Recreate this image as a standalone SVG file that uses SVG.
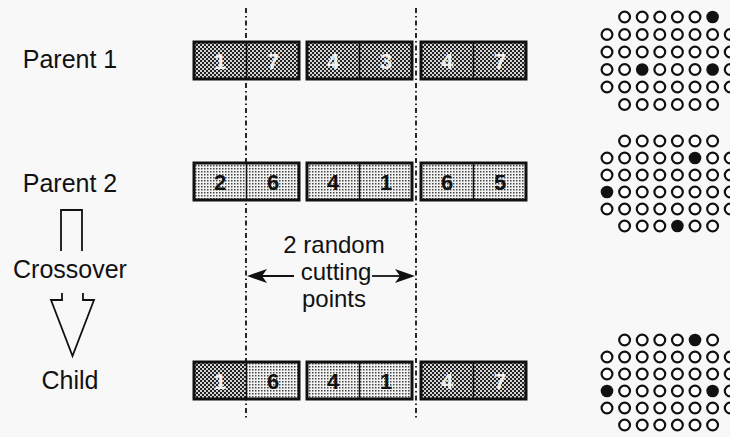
<svg xmlns="http://www.w3.org/2000/svg" width="730" height="437" viewBox="0 0 730 437">
<defs>
<pattern id="dk" width="4" height="4" patternUnits="userSpaceOnUse">
<rect width="4" height="4" fill="#d4d4d4"/>
<rect width="2" height="2" fill="#222"/>
<rect x="2" y="2" width="2" height="2" fill="#222"/>
</pattern>
<pattern id="lt" width="3" height="3" patternUnits="userSpaceOnUse">
<rect width="3" height="3" fill="#f2f2f2"/>
<rect width="1.5" height="1.5" fill="#444"/>
</pattern>
</defs>
<style>
.lbl{font-family:"Liberation Sans",Arial,sans-serif;font-size:25px;fill:#111;text-anchor:middle}
.note{font-family:"Liberation Sans",Arial,sans-serif;font-size:24px;fill:#111;text-anchor:middle}
.dg{font-family:"Liberation Sans",Arial,sans-serif;font-size:22px;font-weight:bold;text-anchor:middle}
.w{fill:#f0f0f0}
.b{fill:#111}
.d{fill:url(#dk)}
.l{fill:url(#lt)}
.box{fill:none;stroke:#111;stroke-width:3}
.div{stroke:#111;stroke-width:1.5}
.cut{stroke:#111;stroke-width:1.8;stroke-dasharray:5 3 1.5 3;fill:none}
.o{fill:#fff;stroke:#111;stroke-width:2.2}
.f{fill:#111}
.ln{stroke:#111;stroke-width:1.8;fill:none}
.hd{fill:#111}
</style>
<rect width="730" height="437" fill="#f8f8f8"/>

<g id="connectors">
<line class="cut" x1="246" y1="8" x2="246" y2="418"/>
<line class="cut" x1="416" y1="8" x2="416" y2="418"/>
<line class="ln" x1="294" y1="276" x2="258" y2="276"/>
<path class="hd" d="M247,276 L267,269 L262,276 L267,283 Z"/>
<line class="ln" x1="372" y1="276" x2="404" y2="276"/>
<path class="hd" d="M415,276 L395,269 L400,276 L395,283 Z"/>
<path class="ln" d="M61,251 V210 H82 V251"/>
<path class="ln" d="M62,293 V300 H51 L72.5,356 L94,300 H83 V293"/>
</g>

<g id="label-parent1"><text class="lbl" x="70" y="68">Parent 1</text></g>
<g id="label-parent2"><text class="lbl" x="70" y="192">Parent 2</text></g>
<g id="label-crossover"><text class="lbl" x="70" y="278">Crossover</text></g>
<g id="label-child"><text class="lbl" x="70" y="389">Child</text></g>
<g id="label-cuts">
<text class="note" x="334" y="253">2 random</text>
<text class="note" x="336" y="280">cutting</text>
<text class="note" x="334" y="307">points</text>
</g>

<g id="parent1">
<rect class="d" x="194" y="42" width="105" height="37"/>
<rect class="d" x="307" y="42" width="105" height="37"/>
<rect class="d" x="421" y="42" width="105" height="37"/>
<rect class="box" x="194" y="42" width="105" height="37"/>
<rect class="box" x="307" y="42" width="105" height="37"/>
<rect class="box" x="421" y="42" width="105" height="37"/>
<line class="div" x1="246.5" y1="42" x2="246.5" y2="79"/>
<line class="div" x1="359.5" y1="42" x2="359.5" y2="79"/>
<line class="div" x1="473.5" y1="42" x2="473.5" y2="79"/>
<text class="dg w" x="220" y="68.5">1</text>
<text class="dg w" x="273" y="68.5">7</text>
<text class="dg w" x="333" y="68.5">4</text>
<text class="dg w" x="386" y="68.5">3</text>
<text class="dg w" x="447" y="68.5">4</text>
<text class="dg w" x="500" y="68.5">7</text>
</g>

<g id="parent2">
<rect class="l" x="194" y="163" width="105" height="37"/>
<rect class="l" x="307" y="163" width="105" height="37"/>
<rect class="l" x="421" y="163" width="105" height="37"/>
<rect class="box" x="194" y="163" width="105" height="37"/>
<rect class="box" x="307" y="163" width="105" height="37"/>
<rect class="box" x="421" y="163" width="105" height="37"/>
<line class="div" x1="246.5" y1="163" x2="246.5" y2="200"/>
<line class="div" x1="359.5" y1="163" x2="359.5" y2="200"/>
<line class="div" x1="473.5" y1="163" x2="473.5" y2="200"/>
<text class="dg b" x="220" y="189.5">2</text>
<text class="dg b" x="273" y="189.5">6</text>
<text class="dg b" x="333" y="189.5">4</text>
<text class="dg b" x="386" y="189.5">1</text>
<text class="dg b" x="447" y="189.5">6</text>
<text class="dg b" x="500" y="189.5">5</text>
</g>

<g id="child">
<rect class="d" x="194" y="362" width="52.5" height="37"/>
<rect class="l" x="246.5" y="362" width="52.5" height="37"/>
<rect class="l" x="307" y="362" width="105" height="37"/>
<rect class="d" x="421" y="362" width="105" height="37"/>
<rect class="box" x="194" y="362" width="105" height="37"/>
<rect class="box" x="307" y="362" width="105" height="37"/>
<rect class="box" x="421" y="362" width="105" height="37"/>
<line class="div" x1="246.5" y1="362" x2="246.5" y2="399"/>
<line class="div" x1="359.5" y1="362" x2="359.5" y2="399"/>
<line class="div" x1="473.5" y1="362" x2="473.5" y2="399"/>
<text class="dg w" x="220" y="388.5">1</text>
<text class="dg b" x="273" y="388.5">6</text>
<text class="dg b" x="333" y="388.5">4</text>
<text class="dg b" x="386" y="388.5">1</text>
<text class="dg w" x="447" y="388.5">4</text>
<text class="dg w" x="500" y="388.5">7</text>
</g>

<g id="grid-parent1">
<circle class="o" cx="624.6" cy="17" r="5.4"/><circle class="o" cx="642.2" cy="17" r="5.4"/><circle class="o" cx="659.8" cy="17" r="5.4"/><circle class="o" cx="677.4" cy="17" r="5.4"/><circle class="o" cx="695" cy="17" r="5.4"/><circle class="f" cx="712.6" cy="17" r="6.3"/>
<circle class="o" cx="607" cy="34.5" r="5.4"/><circle class="o" cx="624.6" cy="34.5" r="5.4"/><circle class="o" cx="642.2" cy="34.5" r="5.4"/><circle class="o" cx="659.8" cy="34.5" r="5.4"/><circle class="o" cx="677.4" cy="34.5" r="5.4"/><circle class="o" cx="695" cy="34.5" r="5.4"/><circle class="o" cx="712.6" cy="34.5" r="5.4"/><circle class="o" cx="730.2" cy="34.5" r="5.4"/>
<circle class="o" cx="607" cy="52" r="5.4"/><circle class="o" cx="624.6" cy="52" r="5.4"/><circle class="o" cx="642.2" cy="52" r="5.4"/><circle class="o" cx="659.8" cy="52" r="5.4"/><circle class="o" cx="677.4" cy="52" r="5.4"/><circle class="o" cx="695" cy="52" r="5.4"/><circle class="o" cx="712.6" cy="52" r="5.4"/><circle class="o" cx="730.2" cy="52" r="5.4"/>
<circle class="o" cx="607" cy="69.5" r="5.4"/><circle class="o" cx="624.6" cy="69.5" r="5.4"/><circle class="f" cx="642.2" cy="69.5" r="6.3"/><circle class="o" cx="659.8" cy="69.5" r="5.4"/><circle class="o" cx="677.4" cy="69.5" r="5.4"/><circle class="o" cx="695" cy="69.5" r="5.4"/><circle class="f" cx="712.6" cy="69.5" r="6.3"/><circle class="o" cx="730.2" cy="69.5" r="5.4"/>
<circle class="o" cx="607" cy="87" r="5.4"/><circle class="o" cx="624.6" cy="87" r="5.4"/><circle class="o" cx="642.2" cy="87" r="5.4"/><circle class="o" cx="659.8" cy="87" r="5.4"/><circle class="o" cx="677.4" cy="87" r="5.4"/><circle class="o" cx="695" cy="87" r="5.4"/><circle class="o" cx="712.6" cy="87" r="5.4"/><circle class="o" cx="730.2" cy="87" r="5.4"/>
<circle class="o" cx="624.6" cy="104.5" r="5.4"/><circle class="o" cx="642.2" cy="104.5" r="5.4"/><circle class="o" cx="659.8" cy="104.5" r="5.4"/><circle class="o" cx="677.4" cy="104.5" r="5.4"/><circle class="o" cx="695" cy="104.5" r="5.4"/><circle class="o" cx="712.6" cy="104.5" r="5.4"/>
</g>

<g id="grid-parent2">
<circle class="o" cx="624.6" cy="141" r="5.4"/><circle class="o" cx="642.2" cy="141" r="5.4"/><circle class="o" cx="659.8" cy="141" r="5.4"/><circle class="o" cx="677.4" cy="141" r="5.4"/><circle class="o" cx="695" cy="141" r="5.4"/><circle class="o" cx="712.6" cy="141" r="5.4"/>
<circle class="o" cx="607" cy="158" r="5.4"/><circle class="o" cx="624.6" cy="158" r="5.4"/><circle class="o" cx="642.2" cy="158" r="5.4"/><circle class="o" cx="659.8" cy="158" r="5.4"/><circle class="o" cx="677.4" cy="158" r="5.4"/><circle class="f" cx="695" cy="158" r="6.3"/><circle class="o" cx="712.6" cy="158" r="5.4"/><circle class="o" cx="730.2" cy="158" r="5.4"/>
<circle class="o" cx="607" cy="175" r="5.4"/><circle class="o" cx="624.6" cy="175" r="5.4"/><circle class="o" cx="642.2" cy="175" r="5.4"/><circle class="o" cx="659.8" cy="175" r="5.4"/><circle class="o" cx="677.4" cy="175" r="5.4"/><circle class="o" cx="695" cy="175" r="5.4"/><circle class="o" cx="712.6" cy="175" r="5.4"/><circle class="o" cx="730.2" cy="175" r="5.4"/>
<circle class="f" cx="607" cy="192" r="6.3"/><circle class="o" cx="624.6" cy="192" r="5.4"/><circle class="o" cx="642.2" cy="192" r="5.4"/><circle class="o" cx="659.8" cy="192" r="5.4"/><circle class="o" cx="677.4" cy="192" r="5.4"/><circle class="o" cx="695" cy="192" r="5.4"/><circle class="o" cx="712.6" cy="192" r="5.4"/><circle class="o" cx="730.2" cy="192" r="5.4"/>
<circle class="o" cx="607" cy="209" r="5.4"/><circle class="o" cx="624.6" cy="209" r="5.4"/><circle class="o" cx="642.2" cy="209" r="5.4"/><circle class="o" cx="659.8" cy="209" r="5.4"/><circle class="o" cx="677.4" cy="209" r="5.4"/><circle class="o" cx="695" cy="209" r="5.4"/><circle class="o" cx="712.6" cy="209" r="5.4"/><circle class="o" cx="730.2" cy="209" r="5.4"/>
<circle class="o" cx="624.6" cy="226" r="5.4"/><circle class="o" cx="642.2" cy="226" r="5.4"/><circle class="o" cx="659.8" cy="226" r="5.4"/><circle class="f" cx="677.4" cy="226" r="6.3"/><circle class="o" cx="695" cy="226" r="5.4"/><circle class="o" cx="712.6" cy="226" r="5.4"/>
</g>

<g id="grid-child">
<circle class="o" cx="624.6" cy="340" r="5.4"/><circle class="o" cx="642.2" cy="340" r="5.4"/><circle class="o" cx="659.8" cy="340" r="5.4"/><circle class="o" cx="677.4" cy="340" r="5.4"/><circle class="f" cx="695" cy="340" r="6.3"/><circle class="o" cx="712.6" cy="340" r="5.4"/>
<circle class="o" cx="607" cy="357" r="5.4"/><circle class="o" cx="624.6" cy="357" r="5.4"/><circle class="o" cx="642.2" cy="357" r="5.4"/><circle class="o" cx="659.8" cy="357" r="5.4"/><circle class="o" cx="677.4" cy="357" r="5.4"/><circle class="o" cx="695" cy="357" r="5.4"/><circle class="o" cx="712.6" cy="357" r="5.4"/><circle class="o" cx="730.2" cy="357" r="5.4"/>
<circle class="o" cx="607" cy="374" r="5.4"/><circle class="o" cx="624.6" cy="374" r="5.4"/><circle class="o" cx="642.2" cy="374" r="5.4"/><circle class="o" cx="659.8" cy="374" r="5.4"/><circle class="o" cx="677.4" cy="374" r="5.4"/><circle class="o" cx="695" cy="374" r="5.4"/><circle class="o" cx="712.6" cy="374" r="5.4"/><circle class="o" cx="730.2" cy="374" r="5.4"/>
<circle class="f" cx="607" cy="391" r="6.3"/><circle class="o" cx="624.6" cy="391" r="5.4"/><circle class="o" cx="642.2" cy="391" r="5.4"/><circle class="o" cx="659.8" cy="391" r="5.4"/><circle class="o" cx="677.4" cy="391" r="5.4"/><circle class="o" cx="695" cy="391" r="5.4"/><circle class="f" cx="712.6" cy="391" r="6.3"/><circle class="o" cx="730.2" cy="391" r="5.4"/>
<circle class="o" cx="607" cy="408" r="5.4"/><circle class="o" cx="624.6" cy="408" r="5.4"/><circle class="o" cx="642.2" cy="408" r="5.4"/><circle class="o" cx="659.8" cy="408" r="5.4"/><circle class="o" cx="677.4" cy="408" r="5.4"/><circle class="o" cx="695" cy="408" r="5.4"/><circle class="o" cx="712.6" cy="408" r="5.4"/><circle class="o" cx="730.2" cy="408" r="5.4"/>
<circle class="o" cx="624.6" cy="425" r="5.4"/><circle class="o" cx="642.2" cy="425" r="5.4"/><circle class="o" cx="659.8" cy="425" r="5.4"/><circle class="o" cx="677.4" cy="425" r="5.4"/><circle class="o" cx="695" cy="425" r="5.4"/><circle class="o" cx="712.6" cy="425" r="5.4"/>
</g>
</svg>
